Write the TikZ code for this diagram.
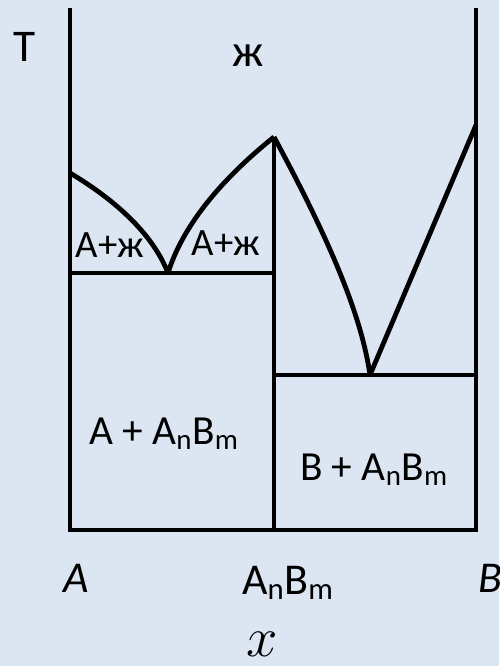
\documentclass[tikz,border=0pt]{standalone}
\usepackage{fontspec}
\setmainfont{Carlito}
\usetikzlibrary{positioning}
\definecolor{paleblue}{RGB}{220,230,242}

\begin{document}
\begin{tikzpicture}[x=0.75pt, y=-0.75pt,
  every node/.style={inner sep=0pt, font=\fontsize{31}{34}\selectfont},
  phase/.style={line width=3.6pt, line join=miter},
  axislabel/.style={font=\fontsize{33}{36}\selectfont\itshape}
]
\fill[paleblue] (0,0) rectangle (499,666);
\useasboundingbox (0,0) rectangle (499,666);

% key points of the diagram
\coordinate (Atop) at (70,8);
\coordinate (Abot) at (70,530);
\coordinate (Btop) at (476,8);
\coordinate (Bbot) at (476,530);
\coordinate (Cbot) at (274,530);
\coordinate (Cpk) at (274,137);
\coordinate (tA) at (70,173);
\coordinate (tB) at (476,125);
\coordinate (eut1) at (168,273);
\coordinate (eut1L) at (70,273);
\coordinate (eut1R) at (274,273);
\coordinate (eut2) at (370,375);
\coordinate (eut2L) at (274,375);
\coordinate (eut2R) at (476,375);

\draw[phase] (Atop) -- (Abot) -- (Bbot) -- (Btop);
\draw[phase] (Cbot) -- (Cpk);
\draw[phase] (eut1L) -- (eut1R);
\draw[phase] (eut2L) -- (eut2R);
\draw[phase] (tA) .. controls (112,198) and (152,232) .. (eut1);
\draw[phase] (eut1) .. controls (182,228) and (218,182) .. (Cpk);
\draw[phase] (Cpk) .. controls (335,250) and (362,320) .. (eut2);
\draw[phase] (eut2) -- (tB);

\node[font=\fontsize{34}{36}\selectfont] (temp) at (25,47) {T};
\node[font=\fontsize{34}{36}\selectfont] (liq) at (248,56) {ж};
\node[font=\fontsize{29}{32}\selectfont] (solA1) at (110,245) {A+ж};
\node[font=\fontsize{29}{32}\selectfont] (solA2) at (226,243) {A+ж};
\node (mixA) at (164,434) {A + A\textsubscript{n}B\textsubscript{m}};
\node (mixB) at (374,470) {B + A\textsubscript{n}B\textsubscript{m}};

\node[axislabel] (labA) at (76,578) {A};
\node[font=\fontsize{33}{36}\selectfont] (labC) at (288,583) {A\textsubscript{n}B\textsubscript{m}};
\node[axislabel, anchor=west] (labB) at (478,578) {B};
\node[scale=1.7] (labx) at (262,644) {$x$};
\end{tikzpicture}
\end{document}
